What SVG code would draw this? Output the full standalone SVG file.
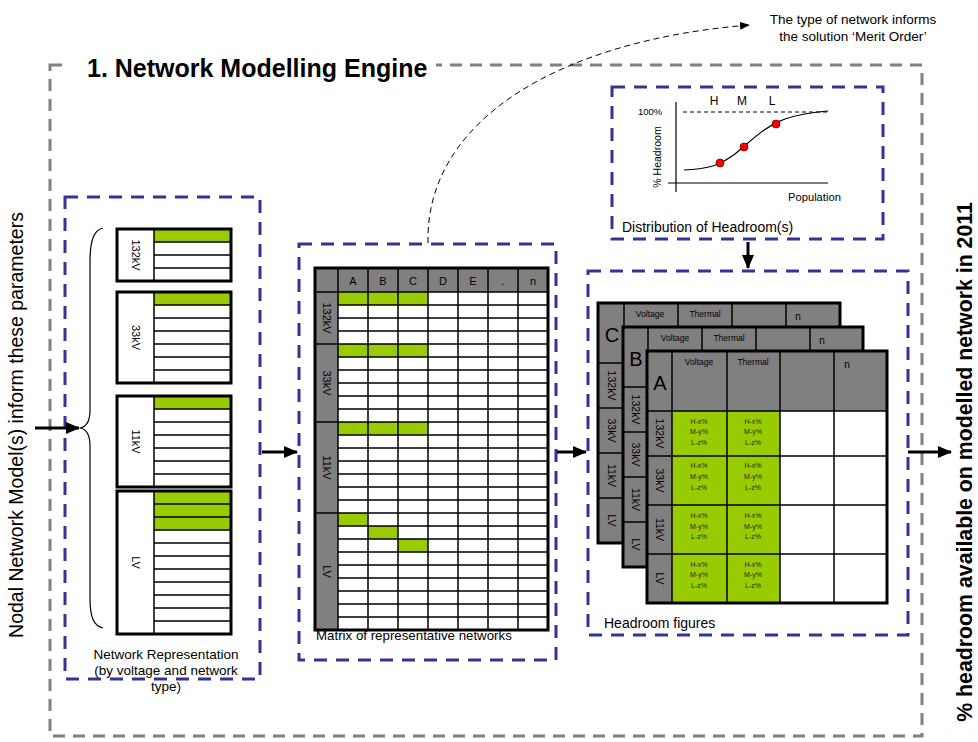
<svg xmlns="http://www.w3.org/2000/svg" width="978" height="742" viewBox="0 0 978 742">
<defs>
<marker id="ah" markerUnits="userSpaceOnUse" markerWidth="14" markerHeight="12" refX="13" refY="6" orient="auto"><path d="M0,0 L14,6 L0,12 z" fill="#000"/></marker>
<marker id="ahs" markerUnits="userSpaceOnUse" markerWidth="10" markerHeight="8" refX="10" refY="4" orient="auto"><path d="M0,0 L10,4 L0,8 z" fill="#000"/></marker>
</defs>
<style>
.t{font-family:"Liberation Sans",Arial,sans-serif;fill:#000}
.b{font-weight:bold}
.m{text-anchor:middle}
.blue{fill:none;stroke:#333399;stroke-width:3;stroke-dasharray:13 9}
.gray{fill:none;stroke:#808080;stroke-width:3;stroke-dasharray:12 8}
.thick{fill:none;stroke:#000;stroke-width:3}
.ln{stroke:#000;stroke-width:1.5;fill:none}
.g{fill:#99cc00}
.gr{fill:#808080}
.w{fill:#fff}
.arr{stroke:#000;stroke-width:3;fill:none;marker-end:url(#ah)}
.hx{font-size:7px;fill:#222}
.hd{font-size:8.5px}
</style>
<rect width="978" height="742" fill="#fff"/>

<g id="engine">
<rect class="gray" x="50" y="65" width="872" height="671"/>
<rect x="66" y="55" width="370" height="20" fill="#fff"/>
<text class="t b" x="87" y="77" font-size="25">1. Network Modelling Engine</text>
</g>

<g id="input-label">
<text class="t m" font-size="19.5" transform="translate(23,425) rotate(-90)">Nodal Network Model(s) inform these parameters</text>
</g>

<g id="output-label">
<text class="t b m" font-size="21.3" transform="translate(972,462) rotate(-90)">% headroom available on modelled network in 2011</text>
</g>

<g id="merit-note">
<text class="t m" font-size="13.5" x="853" y="24">The type of network informs</text>
<text class="t m" font-size="13.5" x="853" y="41">the solution ‘Merit Order’</text>
</g>

<g id="network-representation">
<rect class="blue" x="65" y="197" width="195" height="482"/>
<path d="M103,228 C94,230 90,240 90,262 L90,410 C90,422 86,427 80,428 C86,429 90,434 90,446 L90,598 C90,618 94,626 103,628" fill="none" stroke="#000" stroke-width="1.2"/>
<rect class="w" x="117" y="229" width="114" height="52"/>
<rect class="g" x="154" y="229" width="77" height="13"/>
<path class="ln" d="M154,229 V281 M154,242 H231 M154,255 H231 M154,268 H231"/>
<rect class="thick" x="117" y="229" width="114" height="52"/>
<text class="t m" font-size="11" transform="translate(132,255) rotate(90)">132kV</text>
<rect class="w" x="117" y="292" width="114" height="91"/>
<rect class="g" x="154" y="292" width="77" height="13"/>
<path class="ln" d="M154,292 V383 M154,305 H231 M154,318 H231 M154,331 H231 M154,344 H231 M154,357 H231 M154,370 H231"/>
<rect class="thick" x="117" y="292" width="114" height="91"/>
<text class="t m" font-size="11" transform="translate(132,337.5) rotate(90)">33kV</text>
<rect class="w" x="117" y="396" width="114" height="91"/>
<rect class="g" x="154" y="396" width="77" height="13"/>
<path class="ln" d="M154,396 V487 M154,409 H231 M154,422 H231 M154,435 H231 M154,448 H231 M154,461 H231 M154,474 H231"/>
<rect class="thick" x="117" y="396" width="114" height="91"/>
<text class="t m" font-size="11" transform="translate(132,441.5) rotate(90)">11kV</text>
<rect class="w" x="117" y="491" width="114" height="143"/>
<rect class="g" x="154" y="491" width="77" height="39"/>
<path class="ln" d="M154,491 V634 M154,504 H231 M154,517 H231 M154,530 H231 M154,543 H231 M154,556 H231 M154,569 H231 M154,582 H231 M154,595 H231 M154,608 H231 M154,621 H231"/>
<rect class="thick" x="117" y="491" width="114" height="143"/>
<text class="t m" font-size="11" transform="translate(132,562.5) rotate(90)">LV</text>
<text class="t m" font-size="13.5" x="166" y="659">Network Representation</text>
<text class="t m" font-size="13.5" x="166" y="675">(by voltage and network</text>
<text class="t m" font-size="13.5" x="166" y="691">type)</text>
</g>

<g id="matrix">
<rect class="blue" x="299" y="244" width="257" height="416"/>
<rect class="gr" x="315" y="268" width="233" height="362"/>
<rect class="w" x="338" y="292" width="210" height="338"/>
<rect class="g" x="338" y="292" width="90" height="13"/>
<rect class="g" x="338" y="344" width="90" height="13"/>
<rect class="g" x="338" y="422" width="90" height="13"/>
<rect class="g" x="338" y="513" width="30" height="13"/>
<rect class="g" x="368" y="526" width="30" height="13"/>
<rect class="g" x="398" y="539" width="30" height="13"/>
<path class="ln" d="M338,268 V630 M368,268 V630 M398,268 V630 M428,268 V630 M458,268 V630 M488,268 V630 M518,268 V630
M315,292 H548 M338,305 H548 M338,318 H548 M338,331 H548 M315,344 H548 M338,357 H548 M338,370 H548 M338,383 H548 M338,396 H548 M338,409 H548
M315,422 H548 M338,435 H548 M338,448 H548 M338,461 H548 M338,474 H548 M338,487 H548 M338,500 H548
M315,513 H548 M338,526 H548 M338,539 H548 M338,552 H548 M338,565 H548 M338,578 H548 M338,591 H548 M338,604 H548 M338,617 H548"/>
<rect class="thick" x="315" y="268" width="233" height="362"/>
<g class="t m" font-size="11">
<text x="353" y="285">A</text><text x="383" y="285">B</text><text x="413" y="285">C</text><text x="443" y="285">D</text><text x="473" y="285">E</text><text x="503" y="285">.</text><text x="533" y="285">n</text>
<text transform="translate(322.5,318) rotate(90)">132kV</text>
<text transform="translate(322.5,383) rotate(90)">33kV</text>
<text transform="translate(322.5,467.5) rotate(90)">11kV</text>
<text transform="translate(322.5,571.5) rotate(90)">LV</text>
</g>
<text class="t" font-size="13.3" x="316" y="640">Matrix of representative networks</text>
</g>

<g id="merit-curve">
<path d="M428,243 C425,120 560,40 750,25" fill="none" stroke="#000" stroke-width="1" stroke-dasharray="6 4" marker-end="url(#ahs)"/>
</g>

<g id="distribution">
<rect class="blue" x="612" y="87" width="271" height="152"/>
<path d="M676,102 V192 M668,183 H828" stroke="#000" stroke-width="1.2" fill="none"/>
<path d="M683,112 H828" stroke="#000" stroke-width="1" stroke-dasharray="4 3" fill="none"/>
<path d="M684,170 C710,169 720,165 735,154 C752,140 765,126 785,119 C800,114 815,112 828,111" fill="none" stroke="#000" stroke-width="1.2"/>
<g fill="#ff0000" stroke="#600" stroke-width="0.8">
<circle cx="720" cy="163" r="4"/><circle cx="744" cy="147" r="4"/><circle cx="776" cy="124" r="4"/>
</g>
<text class="t" font-size="9.5" x="638" y="115">100%</text>
<text class="t m" font-size="10.5" transform="translate(661,157) rotate(-90)">% Headroom</text>
<text class="t m" font-size="12"><tspan x="714" y="105">H</tspan><tspan x="742" y="105">M</tspan><tspan x="772" y="105">L</tspan></text>
<text class="t" font-size="11.2" x="788" y="201">Population</text>
<text class="t" font-size="14" x="622" y="232">Distribution of Headroom(s)</text>
</g>

<g id="headroom-figures">
<rect class="blue" x="588" y="271" width="320" height="364"/>
<rect class="gr" x="598" y="303" width="242" height="240"/>
<path class="ln" d="M624,303 V543 M678,303 V363 M732,303 V363 M786,303 V363 M598,363 H624 M598,408 H624 M598,453 H624 M598,498 H624"/>
<rect class="thick" x="598" y="303" width="242" height="240"/>
<text class="t m" font-size="20" x="612" y="342">C</text>
<text class="t m hd" x="650" y="317">Voltage</text><text class="t m hd" x="705" y="317">Thermal</text><text class="t m" font-size="10" x="798" y="320">n</text>
<g class="t m" font-size="10.5"><text transform="translate(607.5,385.5) rotate(90)">132kV</text><text transform="translate(607.5,430.5) rotate(90)">33kV</text><text transform="translate(607.5,475.5) rotate(90)">11kV</text><text transform="translate(607.5,520.5) rotate(90)">LV</text></g>
<rect class="gr" x="623" y="327" width="240" height="240"/>
<path class="ln" d="M648,327 V567 M702,327 V387 M756,327 V387 M810,327 V387 M623,387 H648 M623,432 H648 M623,477 H648 M623,522 H648"/>
<rect class="thick" x="623" y="327" width="240" height="240"/>
<text class="t m" font-size="20" x="636" y="366">B</text>
<text class="t m hd" x="675" y="341">Voltage</text><text class="t m hd" x="729" y="341">Thermal</text><text class="t m" font-size="10" x="822" y="344">n</text>
<g class="t m" font-size="10.5"><text transform="translate(632,409.5) rotate(90)">132kV</text><text transform="translate(632,454.5) rotate(90)">33kV</text><text transform="translate(632,499.5) rotate(90)">11kV</text><text transform="translate(632,544.5) rotate(90)">LV</text></g>
<rect class="gr" x="647" y="351" width="240" height="252"/>
<rect class="g" x="672" y="411" width="108" height="192"/>
<rect class="w" x="780" y="411" width="107" height="192"/>
<path class="ln" d="M672,351 V603 M727,351 V603 M780,351 V603 M834,351 V603 M647,411 H887 M647,456 H887 M647,505 H887 M647,554 H887"/>
<rect class="thick" x="647" y="351" width="240" height="252"/>
<text class="t m" font-size="20" x="660" y="390">A</text>
<text class="t m hd" x="699" y="365">Voltage</text><text class="t m hd" x="753" y="365">Thermal</text><text class="t m" font-size="10" x="847" y="368">n</text>
<g class="t m" font-size="10.5"><text transform="translate(656,433.5) rotate(90)">132kV</text><text transform="translate(656,480.5) rotate(90)">33kV</text><text transform="translate(656,529.5) rotate(90)">11kV</text><text transform="translate(656,578.5) rotate(90)">LV</text></g>
<g class="t m hx">
<text x="699" y="423.5">H-x%</text><text x="699" y="434">M-y%</text><text x="699" y="444.5">L-z%</text>
<text x="753" y="423.5">H-x%</text><text x="753" y="434">M-y%</text><text x="753" y="444.5">L-z%</text>
<text x="699" y="468">H-x%</text><text x="699" y="479">M-y%</text><text x="699" y="489.5">L-z%</text>
<text x="753" y="468">H-x%</text><text x="753" y="479">M-y%</text><text x="753" y="489.5">L-z%</text>
<text x="699" y="517.5">H-x%</text><text x="699" y="528.5">M-y%</text><text x="699" y="539">L-z%</text>
<text x="753" y="517.5">H-x%</text><text x="753" y="528.5">M-y%</text><text x="753" y="539">L-z%</text>
<text x="699" y="566.5">H-x%</text><text x="699" y="577">M-y%</text><text x="699" y="587.5">L-z%</text>
<text x="753" y="566.5">H-x%</text><text x="753" y="577">M-y%</text><text x="753" y="587.5">L-z%</text>
</g>
<text class="t" font-size="14" x="604" y="628">Headroom figures</text>
</g>

<g id="connectors">
<path class="arr" d="M35,428 H79"/>
<path class="arr" d="M262,452 H297"/>
<path class="arr" d="M557,452 H586"/>
<path class="arr" d="M748,242 V268"/>
<path class="arr" d="M908,452 H951"/>
</g>
</svg>
